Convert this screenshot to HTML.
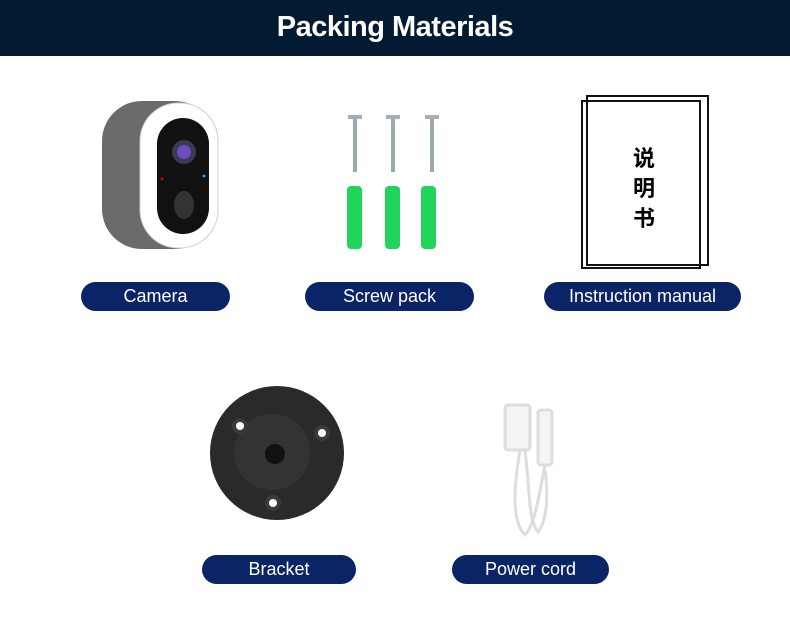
<!DOCTYPE html>
<html><head><meta charset="utf-8"><style>
body{margin:0;width:790px;height:619px;background:#fff;position:relative;overflow:hidden;font-family:"Liberation Sans",sans-serif}
.hdr{position:absolute;left:0;top:0;width:790px;height:56px;background:#031a33;color:#fff;font-weight:bold;font-size:29px;text-align:center;line-height:54px;letter-spacing:-0.5px}
.pill{position:absolute;height:29px;background:#0a2466;border-radius:15px;color:#fff;font-size:18px;text-align:center;line-height:29px}
svg{position:absolute;left:0;top:0}
.zh{position:absolute;left:633px;font-family:"Liberation Sans","Noto Sans CJK SC",sans-serif;font-weight:bold;font-size:22px;color:#000}
</style></head><body>
<div class="hdr">Packing Materials</div>
<svg width="790" height="619">
<!-- camera -->
<rect x="102" y="101" width="113" height="148" rx="40" fill="#6b6b6d"/>
<rect x="140" y="103" width="78" height="145" rx="38" fill="#fff" stroke="#ccc"/>
<rect x="157" y="118" width="52" height="116" rx="26" fill="#111"/>
<circle cx="184" cy="152" r="12" fill="#3a3a55"/><circle cx="184" cy="152" r="7" fill="#6a4fc0"/>
<ellipse cx="184" cy="205" rx="10" ry="14" fill="#333"/>
<circle cx="162" cy="179" r="1.5" fill="#d00"/><circle cx="204" cy="176" r="1.5" fill="#29f"/>
<!-- screws -->
<g stroke="#9aa" stroke-width="4">
<line x1="355" y1="118" x2="355" y2="172"/><line x1="393" y1="118" x2="393" y2="172"/><line x1="432" y1="118" x2="432" y2="172"/></g>
<g fill="#aab"><rect x="348" y="115" width="14" height="4"/><rect x="386" y="115" width="14" height="4"/><rect x="425" y="115" width="14" height="4"/></g>
<g fill="#22d45a"><rect x="347" y="186" width="15" height="63" rx="4"/><rect x="385" y="186" width="15" height="63" rx="4"/><rect x="421" y="186" width="15" height="63" rx="4"/></g>
<!-- manual -->
<rect x="587" y="96" width="121" height="169" fill="none" stroke="#111" stroke-width="2"/>
<rect x="582" y="101" width="118" height="167" fill="none" stroke="#111" stroke-width="2"/>
<!-- bracket -->
<circle cx="277" cy="453" r="67" fill="#2a2a2a"/>
<circle cx="272" cy="452" r="38" fill="#333"/>
<circle cx="275" cy="454" r="10" fill="#111"/>
<circle cx="240" cy="426" r="8" fill="#3a3a3a"/><circle cx="240" cy="426" r="4" fill="#fff"/>
<circle cx="322" cy="433" r="8" fill="#3a3a3a"/><circle cx="322" cy="433" r="4" fill="#fff"/>
<circle cx="273" cy="503" r="8" fill="#3a3a3a"/><circle cx="273" cy="503" r="4" fill="#fff"/>
<!-- cord -->
<g fill="none" stroke="#ddd" stroke-width="3">
<rect x="505" y="405" width="25" height="45" rx="3" fill="#f4f4f4"/>
<rect x="538" y="410" width="14" height="55" rx="3" fill="#f4f4f4"/>
<path d="M520 450 C515 480 510 520 525 535 C535 525 540 490 545 465"/>
<path d="M525 450 C530 490 528 520 538 532 C548 520 548 490 545 470"/>
</g>
</svg>
<div class="zh" style="top:141px">说</div>
<div class="zh" style="top:171px">明</div>
<div class="zh" style="top:201px">书</div>
<div class="pill" style="left:81px;top:282px;width:149px">Camera</div>
<div class="pill" style="left:305px;top:282px;width:169px">Screw pack</div>
<div class="pill" style="left:544px;top:282px;width:197px">Instruction manual</div>
<div class="pill" style="left:202px;top:555px;width:154px">Bracket</div>
<div class="pill" style="left:452px;top:555px;width:157px">Power cord</div>
</body></html>
